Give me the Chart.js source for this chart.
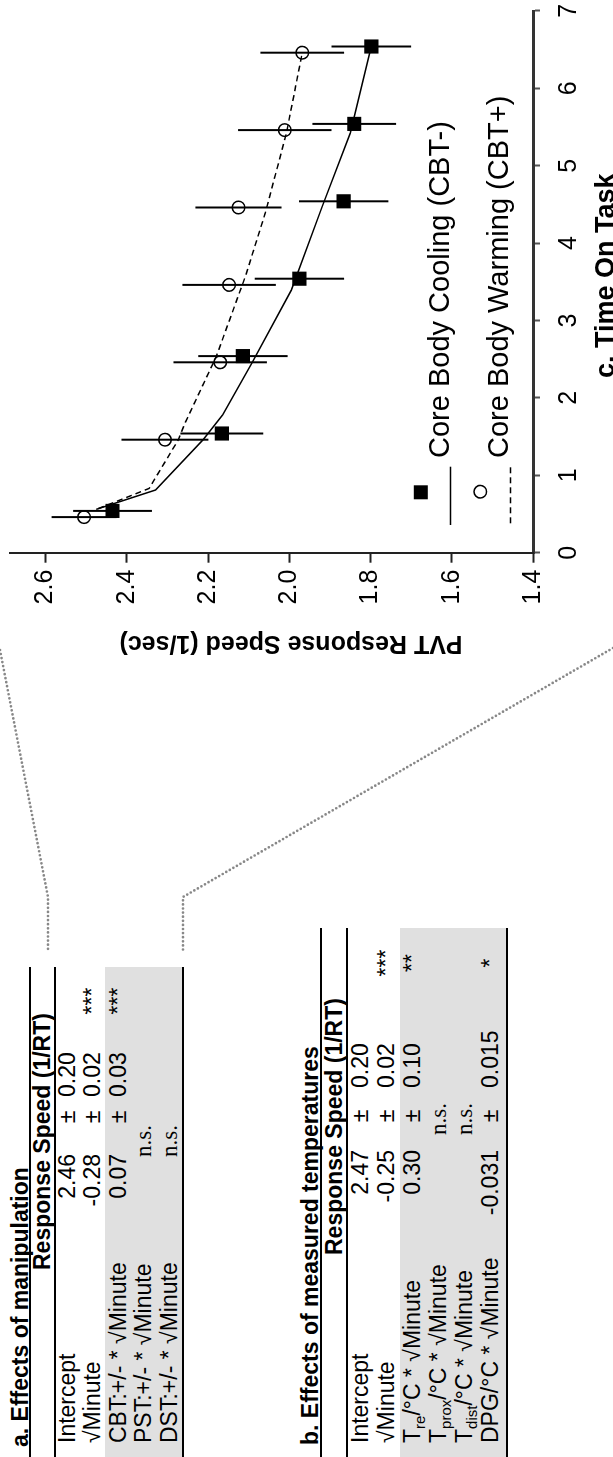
<!DOCTYPE html>
<html>
<head>
<meta charset="utf-8">
<title>Response speed over time on task</title>
<script src="https://cdn.jsdelivr.net/npm/chart.js@4.4.0/dist/chart.umd.min.js"></script>
<style>
  html, body { margin: 0; padding: 0; background: #fff; }
  body { width: 613px; height: 1457px; overflow: hidden; position: relative; }
  /* the figure is laid out landscape and turned a quarter turn counter-clockwise */
  #fig { position: absolute; left: 0; top: 0; width: 1457px; height: 613px;
         transform-origin: 0 0; transform: translateY(1457px) rotate(-90deg);
         font-family: 'Liberation Sans', Arial, Helvetica, sans-serif; color: #000; }
  #chartBox { position: absolute; left: 760px; top: 0; width: 697px; height: 613px; }
  .t { position: absolute; white-space: nowrap; line-height: 1; font-size: 23px; }
  .b { font-weight: bold; }
  .serif { font-family: 'Liberation Serif', 'Times New Roman', serif; }
  .rule { position: absolute; left: 0; height: 2px; background: #000; }
  .shade { position: absolute; left: 0; background: #e0e0e0; }
  sub { font-size: 15px; vertical-align: baseline; position: relative; top: 5px; }
</style>
</head>
<body>
<div id="fig">
  <svg width="1457" height="613" style="position:absolute;left:0;top:0">
    <polyline points="807,0 560,48 505,48" fill="none" stroke="#888" stroke-width="2.7" stroke-dasharray="0 4.1" stroke-linecap="round"/>
    <polyline points="809,613 560,183 505,183" fill="none" stroke="#888" stroke-width="2.7" stroke-dasharray="0 4.1" stroke-linecap="round"/>
  </svg>
  <div id="chartBox"><canvas id="chart" width="697" height="613"></canvas></div>
</div>
<script>
// chart values
const timeTicks = [0, 1, 2, 3, 4, 5, 6, 7];
const speedTicks = [1.4, 1.6, 1.8, 2.0, 2.2, 2.4, 2.6];

const coolTime = [0.54, 1.54, 2.54, 3.54, 4.54, 5.54, 6.54];
const coolSpeed = [2.435, 2.166, 2.114, 1.975, 1.866, 1.84, 1.798];
const coolErr = [0.097, 0.102, 0.11, 0.11, 0.11, 0.103, 0.098];

const warmTime = [0.46, 1.46, 2.46, 3.46, 4.46, 5.46, 6.46];
const warmSpeed = [2.505, 2.306, 2.17, 2.148, 2.125, 2.011, 1.968];
const warmErr = [0.08, 0.107, 0.115, 0.115, 0.106, 0.115, 0.103];

// model fit curves
const coolFitTime = [0.56, 0.81, 1.46, 1.78, 2.45, 3.39, 4.47, 5.42, 6.54];
const coolFitSpeed = [2.475, 2.329, 2.212, 2.164, 2.092, 1.995, 1.919, 1.85, 1.798];
const warmFitTime = [0.57, 0.83, 1.46, 1.67, 2.53, 3.57, 4.39, 5.42, 6.46];
const warmFitSpeed = [2.47, 2.345, 2.273, 2.257, 2.18, 2.108, 2.059, 2.007, 1.968];

const legendLabels = ['Core Body Cooling (CBT-)', 'Core Body Warming (CBT+)'];

// tables
const tableARows = ['Intercept', '√Minute', 'CBT:+/- * √Minute', 'PST:+/- * √Minute', 'DST:+/- * √Minute'];
const tableAEst = ['2.46', '-0.28', '0.07', '', ''];
const tableASe = ['0.20', '0.02', '0.03', '', ''];
const tableAStars = ['', '***', '***', '', ''];

const tableBRows = ['Intercept', '√Minute', 'T<sub>re</sub>/°C * √Minute', 'T<sub>prox</sub>/°C * √Minute',
                    'T<sub>dist</sub>/°C * √Minute', 'DPG/°C * √Minute'];
const tableBEst = ['2.47', '-0.25', '0.30', '', '', '-0.031'];
const tableBSe = ['0.20', '0.02', '0.10', '', '', '0.015'];
const tableBStars = ['', '***', '**', '', '', '*'];

const fig = document.getElementById('fig');
const FONT = "'Liberation Sans', Arial, Helvetica, sans-serif";

const addText = (x, baseline, html, cls, align) => {
  const el = document.createElement('div');
  el.className = 't ' + (cls || '');
  el.innerHTML = html;
  el.style.left = x + 'px';
  el.style.top = (baseline - 0.8465 * 23) + 'px';
  if (align === 'right') el.style.transform = 'translateX(-100%)';
  if (align === 'center') el.style.transform = 'translateX(-50%)';
  fig.appendChild(el);
};

const addBox = (cls, top, height, width) => {
  const el = document.createElement('div');
  el.className = cls;
  el.style.top = top + 'px';
  el.style.height = height + 'px';
  el.style.width = width + 'px';
  fig.appendChild(el);
};

// a table laid out in the landscape frame
const drawTable = (t) => {
  addBox('shade', t.shadeTop, t.shadeBottom - t.shadeTop, t.width);
  addBox('rule', t.ruleTop - 1, 2, t.width);
  addBox('rule', t.ruleHead - 1, 2, t.width);
  addBox('rule', t.shadeBottom - 1, 2, t.width);
  addText(t.titleX, t.titleBase, t.title, 'b');
  addText(t.headX, t.headBase, 'Response Speed (1/RT)', 'b');
  t.rows.forEach((label, i) => {
    const base = t.rowBase[i];
    addText(14, base, label);
    if (t.est[i]) {
      addText(t.estRight, base, t.est[i], '', 'right');
      addText(t.pmX, base, '±', '', 'center');
      addText(t.seLeft, base, t.se[i]);
    } else {
      addText(t.nsX, base, 'n.s.', 'serif', 'center');
    }
    if (t.stars[i]) addText(t.starX, base, t.stars[i], '', 'center');
  });
};

drawTable({
  title: 'a. Effects of manipulation', titleX: 10, titleBase: 28,
  headX: 187, headBase: 50, width: 490,
  ruleTop: 30, ruleHead: 55, shadeTop: 105, shadeBottom: 183,
  rows: tableARows, est: tableAEst, se: tableASe, stars: tableAStars,
  rowBase: [75, 100.5, 126, 151.5, 177],
  estRight: 303, pmX: 340, seLeft: 360, starX: 456, nsX: 316
});

drawTable({
  title: 'b. Effects of measured temperatures', titleX: 12, titleBase: 318,
  headX: 202, headBase: 342, width: 529,
  ruleTop: 321, ruleHead: 347, shadeTop: 400, shadeBottom: 506.5,
  rows: tableBRows, est: tableBEst, se: tableBSe, stars: tableBStars,
  rowBase: [368, 394, 420, 446, 472, 498],
  estRight: 307, pmX: 341, seLeft: 369, starX: 494, nsX: 338
});

// error bars through the library scales
const errorBars = {
  id: 'errorBars',
  afterDatasetsDraw(chart) {
    const { ctx, scales: { x, y } } = chart;
    ctx.save();
    ctx.strokeStyle = '#000';
    ctx.lineWidth = 2;
    [[coolTime, coolSpeed, coolErr], [warmTime, warmSpeed, warmErr]].forEach(([t, v, e]) => {
      t.forEach((ti, i) => {
        const px = x.getPixelForValue(ti);
        ctx.beginPath();
        ctx.moveTo(px, y.getPixelForValue(v[i] - e[i]));
        ctx.lineTo(px, y.getPixelForValue(v[i] + e[i]));
        ctx.stroke();
      });
    });
    ctx.restore();
  }
};

// legend and axis titles
const decorations = {
  id: 'decorations',
  afterDraw(chart) {
    const { ctx, chartArea: a } = chart;
    ctx.save();
    ctx.fillStyle = '#000';
    ctx.strokeStyle = '#000';

    // legend symbols
    ctx.fillRect(a.left + 60.4 - 7, 420.8 - 7, 14, 14);
    ctx.lineWidth = 1.5;
    ctx.beginPath();
    ctx.moveTo(a.left + 27.7, 450.4);
    ctx.lineTo(a.left + 86, 450.4);
    ctx.stroke();
    ctx.beginPath();
    ctx.arc(a.left + 61, 480.3, 6.3, 0, Math.PI * 2);
    ctx.stroke();
    ctx.setLineDash([6, 4]);
    ctx.beginPath();
    ctx.moveTo(a.left + 29.4, 510.6);
    ctx.lineTo(a.left + 86, 510.6);
    ctx.stroke();
    ctx.setLineDash([]);

    ctx.font = '29px ' + FONT;
    ctx.textAlign = 'left';
    ctx.textBaseline = 'alphabetic';
    ctx.fillText(legendLabels[0], a.left + 94.7, 449);
    ctx.fillText(legendLabels[1], a.left + 94.7, 508);

    // axis titles
    ctx.font = 'bold 27px ' + FONT;
    ctx.textAlign = 'center';
    ctx.fillText('c. Time On Task', (a.left + a.right) / 2 + 6, 613.5);

    ctx.font = 'bold 25px ' + FONT;
    ctx.textBaseline = 'middle';
    ctx.translate(54, 291);
    ctx.rotate(-Math.PI / 2);
    ctx.fillText('PVT Response Speed (1/sec)', 0, 0);
    ctx.restore();
  }
};

Chart.defaults.font.family = FONT;
Chart.defaults.color = '#000';

new Chart(document.getElementById('chart'), {
  type: 'scatter',
  data: {
    datasets: [
      {
        type: 'line',
        data: coolFitTime.map((t, i) => ({ x: t, y: coolFitSpeed[i] })),
        borderColor: '#000', borderWidth: 1.5, pointRadius: 0, fill: false, tension: 0
      },
      {
        type: 'line',
        data: warmFitTime.map((t, i) => ({ x: t, y: warmFitSpeed[i] })),
        borderColor: '#000', borderWidth: 1.5, borderDash: [6, 4], pointRadius: 0, fill: false, tension: 0
      },
      {
        label: legendLabels[0],
        data: coolTime.map((t, i) => ({ x: t, y: coolSpeed[i] })),
        pointStyle: 'rect', pointRadius: 10, backgroundColor: '#000', borderColor: '#000', borderWidth: 0
      },
      {
        label: legendLabels[1],
        data: warmTime.map((t, i) => ({ x: t, y: warmSpeed[i] })),
        pointStyle: 'circle', pointRadius: 6.3, backgroundColor: 'rgba(0,0,0,0)', borderColor: '#000', borderWidth: 1.5
      }
    ]
  },
  options: {
    responsive: false,
    devicePixelRatio: 1,
    animation: false,
    layout: { padding: { left: 0, right: 10.9, top: 0, bottom: 0 } },
    plugins: { legend: { display: false }, tooltip: { enabled: false } },
    scales: {
      x: {
        type: 'linear', min: 0, max: 7,
        afterBuildTicks: (s) => { s.ticks = timeTicks.map(v => ({ value: v })); },
        afterFit: (s) => { s.height = 80; s.paddingLeft = 0; s.paddingRight = 0; },
        ticks: { font: { size: 25 }, padding: 14, maxRotation: 0, callback: (v) => String(v) },
        grid: { drawOnChartArea: false, tickLength: 7, tickColor: '#555', tickWidth: 2 },
        border: { color: '#333', width: 3 }
      },
      y: {
        type: 'linear', min: 1.4, max: 2.6874,
        afterBuildTicks: (s) => { s.ticks = speedTicks.map(v => ({ value: v })); },
        afterFit: (s) => { s.width = 144.3; s.paddingTop = 0; s.paddingBottom = 0; },
        ticks: { font: { size: 25 }, padding: 7, callback: (v) => v.toFixed(1) },
        grid: { drawOnChartArea: false, tickLength: 10, tickColor: '#222', tickWidth: 2 },
        border: { color: '#222', width: 2 }
      }
    }
  },
  plugins: [errorBars, decorations]
});
</script>
</body>
</html>
